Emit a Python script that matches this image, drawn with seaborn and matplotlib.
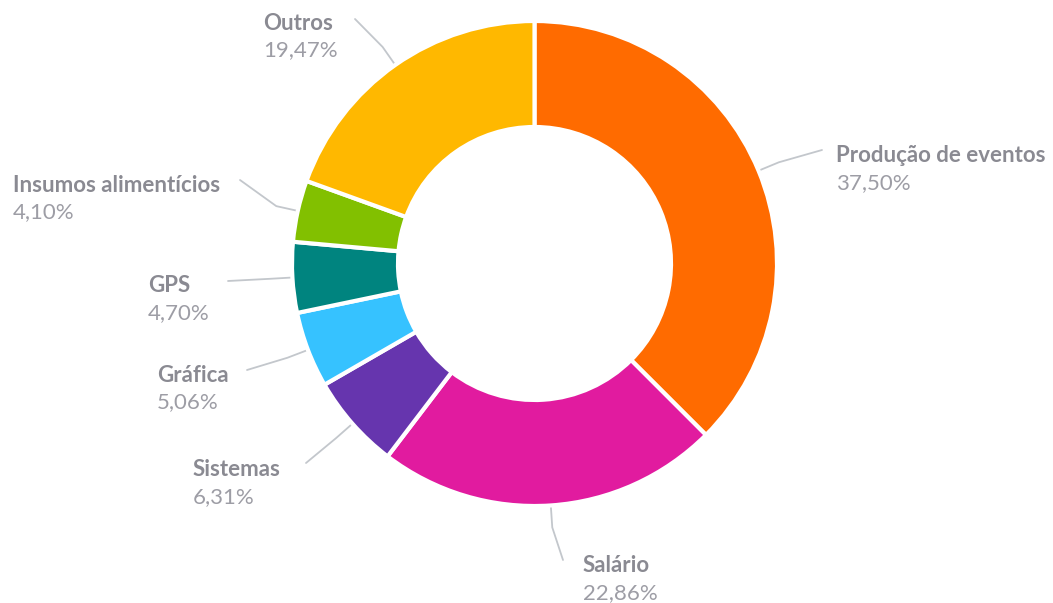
import numpy as np
import matplotlib
matplotlib.use("Agg")
import matplotlib.pyplot as plt
import seaborn as sns

# Dados do gráfico
categorias = ["Produção de eventos", "Salário", "Sistemas", "Gráfica",
              "GPS", "Insumos alimentícios", "Outros"]
percentuais = [37.50, 22.86, 6.31, 5.06, 4.70, 4.10, 19.47]
cores_hex = ["#ff6b00", "#e11b9f", "#6635ae", "#36c2ff",
             "#00847f", "#82c000", "#ffb800"]

# Layout dos rótulos (pixels, y para baixo): fim da linha guia e canto do texto
fim_linha = [(822, 150), (563, 560), (306, 463), (247, 370),
             (228, 281), (240, 180), (355, 19)]
pos_texto = [(836, 156), (583, 566), (193, 470), (157, 375),
             (148, 286), (13, 185), (263, 23)]

sns.set_theme(style="white")
plt.rcParams["font.family"] = ["Lato", "DejaVu Sans"]

W, H = 1053, 603
cx, cy = 534.5, 263.5
R_ext, R_int = 242.5, 136.5

fig = plt.figure(figsize=(W / 100, H / 100), dpi=100)
ax = fig.add_axes([0, 0, 1, 1])

paleta = sns.color_palette(cores_hex)
wedges, _ = ax.pie(
    percentuais,
    colors=paleta,
    startangle=90,
    counterclock=False,
    radius=R_ext,
    center=(cx, H - cy),
    wedgeprops=dict(width=R_ext - R_int, edgecolor="white", linewidth=3),
)

cor_nome = "#8a8a92"
cor_pct = "#9d9da5"
cor_linha = "#c3c7cc"

for w, nome, pct, fim, txt in zip(wedges, categorias, percentuais, fim_linha, pos_texto):
    ang = np.deg2rad((w.theta1 + w.theta2) / 2)
    x0 = cx + R_ext * np.cos(ang)
    y0 = (H - cy) + R_ext * np.sin(ang)
    x1 = cx + (R_ext + 22) * np.cos(ang)
    y1 = (H - cy) + (R_ext + 22) * np.sin(ang)
    ax.plot([x0, x1, fim[0]], [y0, y1, H - fim[1]], color=cor_linha,
            lw=1.3, solid_capstyle="round", zorder=0)

    ax.text(txt[0], H - txt[1], nome, ha="left", va="center",
            fontsize=16, fontweight="bold", color=cor_nome)
    rotulo = f"{pct:.2f}".replace(".", ",") + "%"
    ax.text(txt[0], H - txt[1] - 27, rotulo, ha="left", va="center",
            fontsize=16, color=cor_pct)

ax.set_xlim(0, W)
ax.set_ylim(0, H)
ax.set_aspect("equal")
ax.axis("off")

fig.savefig("out.png", dpi=100, facecolor="white")
plt.close(fig)
